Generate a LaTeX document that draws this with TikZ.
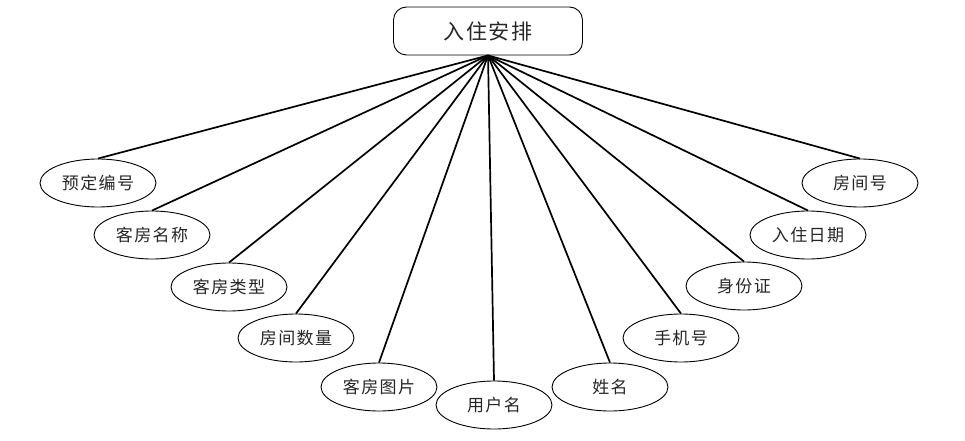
\documentclass[tikz,border=0pt]{standalone}
\usepackage{fontspec}
\usetikzlibrary{shapes.geometric}
\newfontfamily\cjk[LetterSpace=8]{Noto Sans CJK SC}
\begin{document}
\begin{tikzpicture}[x=1pt,y=-1pt,
  attr/.style={draw=black,line width=0.9pt,ellipse,minimum width=116pt,minimum height=48pt,inner sep=0pt,font=\cjk\fontsize{17}{19}\selectfont,text=black!85},
  topbox/.style={draw=black,line width=0.9pt,rounded corners=13pt,minimum width=189pt,minimum height=48pt,inner sep=0pt,font=\cjk\fontsize{21}{23}\selectfont,text=black!85},
  link/.style={line width=1.7pt,black}]
\useasboundingbox (0,0) rectangle (965,441);
\node[topbox] (top) at (488,31) {入住安排};
\node[attr] (a1) at (98,183) {预定编号};
\node[attr] (a2) at (152,235) {客房名称};
\node[attr] (a3) at (229,287) {客房类型};
\node[attr] (a4) at (296,338) {房间数量};
\node[attr] (a5) at (379,387) {客房图片};
\node[attr] (a6) at (494,405) {用户名};
\node[attr] (a7) at (610,387) {姓名};
\node[attr] (a8) at (681,338) {手机号};
\node[attr] (a9) at (744,286) {身份证};
\node[attr] (a10) at (808,235) {入住日期};
\node[attr] (a11) at (860,183) {房间号};
\foreach \i in {1,...,11}{\draw[link] (top.south) -- (a\i.north);}
\end{tikzpicture}
\end{document}
